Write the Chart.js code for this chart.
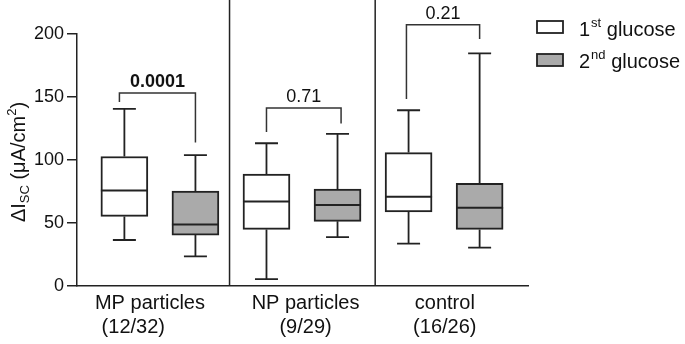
<!DOCTYPE html>
<html>
<head>
<meta charset="utf-8">
<script src="https://cdn.jsdelivr.net/npm/chart.js@4"></script>
<style>
  html, body { margin: 0; padding: 0; background: #fff; }
</style>
</head>
<body>
<canvas id="boxChart" width="685" height="344"></canvas>
<script>
// groups and sample counts
const groups = ['MP particles', 'NP particles', 'control'];
const counts = ['(12/32)      ', '(9/29)', '(16/26)'];
const labelPos = [1.36, 3.55, 5.51];

// box positions on the x scale
const firstPos = [1, 3, 5];
const secondPos = [2, 4, 6];

// 1st glucose (µA/cm²)
const firstMin = [36.5, 5.5, 33.6];
const firstQ1 = [55.2, 44.9, 58.7];
const firstMedian = [75.8, 67.1, 70.8];
const firstQ3 = [102.8, 88.8, 105.9];
const firstMax = [140.6, 113.3, 139.5];

// 2nd glucose
const secondMin = [23.5, 38.8, 30.4];
const secondQ1 = [40.4, 51.3, 44.9];
const secondMedian = [48.9, 64.2, 62.1];
const secondQ3 = [75.3, 76.9, 81.4];
const secondMax = [103.8, 120.7, 184.7];

// comparison brackets
const pValues = ['0.0001', '0.71', '0.21'];
const pBold = [true, false, false];
const bracketTop = [153.2, 141.3, 207.4];
const bracketLeftEnd = [146, 122.3, 148.5];
const bracketRightEnd = [113.9, 128.9, 196];
const bracketLeftX = [0.93, 3.0, 4.97];
const bracketRightX = [2.0, 4.05, 6.0];

const dividers = [2.48, 4.53];

const FONT = '"Liberation Sans", Arial, sans-serif';
const INK = '#222';

function boxData(pos, lo, hi) {
    return pos.map((x, i) => ({x: x, y: [lo[i], hi[i]]}));
}

// whiskers, medians, brackets, dividers, axis title and legend
const boxExtras = {
    id: 'boxExtras',
    afterDatasetsDraw(chart) {
        const ctx = chart.ctx;
        const x = chart.scales.x;
        const y = chart.scales.y;
        const boxW = 47, capW = 23;

        ctx.save();
        ctx.strokeStyle = INK;

        // dividers between groups
        ctx.lineWidth = 1.5;
        dividers.forEach(d => {
            const px = x.getPixelForValue(d);
            ctx.beginPath();
            ctx.moveTo(px, 0);
            ctx.lineTo(px, y.getPixelForValue(0));
            ctx.stroke();
        });

        const series = [
            [firstPos, firstMin, firstQ1, firstMedian, firstQ3, firstMax],
            [secondPos, secondMin, secondQ1, secondMedian, secondQ3, secondMax]
        ];
        series.forEach(([pos, mn, q1, med, q3, mx]) => {
            pos.forEach((p, i) => {
                const cx = x.getPixelForValue(p);
                ctx.lineWidth = 1.8;
                ctx.beginPath();
                ctx.moveTo(cx, y.getPixelForValue(q3[i]));
                ctx.lineTo(cx, y.getPixelForValue(mx[i]));
                ctx.moveTo(cx - capW / 2, y.getPixelForValue(mx[i]));
                ctx.lineTo(cx + capW / 2, y.getPixelForValue(mx[i]));
                ctx.moveTo(cx, y.getPixelForValue(q1[i]));
                ctx.lineTo(cx, y.getPixelForValue(mn[i]));
                ctx.moveTo(cx - capW / 2, y.getPixelForValue(mn[i]));
                ctx.lineTo(cx + capW / 2, y.getPixelForValue(mn[i]));
                ctx.stroke();
                ctx.lineWidth = 2;
                ctx.beginPath();
                ctx.moveTo(cx - boxW / 2, y.getPixelForValue(med[i]));
                ctx.lineTo(cx + boxW / 2, y.getPixelForValue(med[i]));
                ctx.stroke();
            });
        });

        // brackets with p values
        ctx.lineWidth = 1.5;
        ctx.strokeStyle = '#333';
        pValues.forEach((pv, i) => {
            const lx = x.getPixelForValue(bracketLeftX[i]);
            const rx = x.getPixelForValue(bracketRightX[i]);
            const ty = y.getPixelForValue(bracketTop[i]);
            ctx.beginPath();
            ctx.moveTo(lx, y.getPixelForValue(bracketLeftEnd[i]));
            ctx.lineTo(lx, ty);
            ctx.lineTo(rx, ty);
            ctx.lineTo(rx, y.getPixelForValue(bracketRightEnd[i]));
            ctx.stroke();
            ctx.fillStyle = '#111';
            ctx.font = (pBold[i] ? 'bold ' : '') + '18px ' + FONT;
            ctx.textAlign = 'center';
            ctx.textBaseline = 'alphabetic';
            ctx.fillText(pv, (lx + rx) / 2, ty - 6);
        });

        // y axis title with sub/superscripts
        ctx.save();
        ctx.translate(25, 162);
        ctx.rotate(-Math.PI / 2);
        const big = '20px ' + FONT, small = '13px ' + FONT;
        const parts = [
            ['ΔI', big, 0],
            ['SC', small, 4],
            [' (μA/cm', big, 0],
            ['2', small, -9],
            [')', big, 0]
        ];
        let total = 0;
        parts.forEach(pt => { ctx.font = pt[1]; total += ctx.measureText(pt[0]).width; });
        let cur = -total / 2;
        ctx.fillStyle = '#111';
        ctx.textAlign = 'left';
        ctx.textBaseline = 'alphabetic';
        parts.forEach(pt => {
            ctx.font = pt[1];
            ctx.fillText(pt[0], cur, pt[2]);
            cur += ctx.measureText(pt[0]).width;
        });
        ctx.restore();

        // legend
        const legBig = '20px ' + FONT, legSmall = '13px ' + FONT;
        const legendItems = [
            ['1', 'st', '#ffffff', 21, 36],
            ['2', 'nd', '#aaaaaa', 54, 68]
        ];
        legendItems.forEach(([num, sup, fill, by, base]) => {
            ctx.fillStyle = fill;
            ctx.fillRect(537, by, 26, 12);
            ctx.lineWidth = 1.8;
            ctx.strokeStyle = INK;
            ctx.strokeRect(537, by, 26, 12);
            ctx.fillStyle = '#111';
            ctx.textAlign = 'left';
            let tx = 579;
            ctx.font = legBig;
            ctx.fillText(num, tx, base);
            tx += ctx.measureText(num).width + 1;
            ctx.font = legSmall;
            ctx.fillText(sup, tx, base - 9);
            tx += ctx.measureText(sup).width;
            ctx.font = legBig;
            ctx.fillText(' glucose', tx, base);
        });

        ctx.restore();
    }
};

new Chart(document.getElementById('boxChart'), {
    type: 'bar',
    data: {
        datasets: [
            {
                label: '1st glucose',
                data: boxData(firstPos, firstQ1, firstQ3),
                backgroundColor: '#ffffff',
                borderColor: INK,
                borderWidth: 2,
                borderSkipped: false,
                barThickness: 47,
                grouped: false,
            },
            {
                label: '2nd glucose',
                data: boxData(secondPos, secondQ1, secondQ3),
                backgroundColor: '#aaaaaa',
                borderColor: INK,
                borderWidth: 2,
                borderSkipped: false,
                barThickness: 47,
                grouped: false,
            },
        ]
    },
    options: {
        responsive: false,
        animation: false,
        layout: {
            padding: {top: 34, right: 157, left: 0, bottom: 0}
        },
        plugins: {
            legend: {display: false},
            tooltip: {enabled: false},
        },
        scales: {
            x: {
                type: 'linear',
                min: 0.333,
                max: 6.681,
                offset: false,
                grid: {display: false, drawTicks: false},
                border: {color: INK, width: 1.5},
                afterBuildTicks: function (scale) {
                    scale.ticks = labelPos.map(v => ({value: v}));
                },
                afterFit: function (scale) {
                    scale.height = 58;
                },
                ticks: {
                    autoSkip: false,
                    maxRotation: 0,
                    padding: 5,
                    color: '#111',
                    font: {family: FONT, size: 20, lineHeight: 1.2},
                    callback: function (value, index) {
                        return [groups[index], counts[index]];
                    }
                }
            },
            y: {
                min: 0,
                max: 200,
                grid: {drawOnChartArea: false, tickLength: 10, color: INK, lineWidth: 1.5},
                border: {color: INK, width: 1.5},
                afterFit: function (scale) {
                    scale.width = 77;
                },
                ticks: {
                    stepSize: 50,
                    padding: 3,
                    color: '#111',
                    font: {family: FONT, size: 18},
                }
            }
        }
    },
    plugins: [boxExtras]
});
</script>
</body>
</html>
